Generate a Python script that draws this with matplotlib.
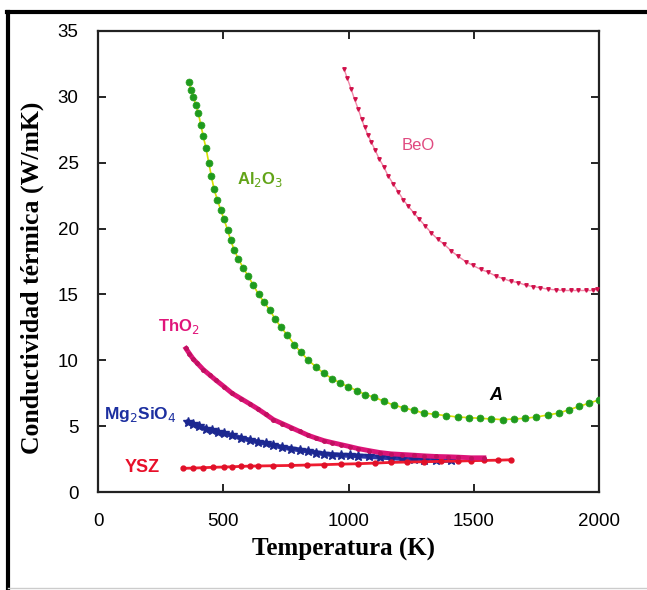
import matplotlib
matplotlib.use("Agg")
import matplotlib.pyplot as plt
from matplotlib.lines import Line2D

# datos (T en K, k en W/mK)
t_al2o3 = [363, 372, 381, 390, 400, 410, 420, 431, 442, 452, 463, 476, 490, 503, 517,
           530, 543, 560, 580, 599, 620, 641, 663, 686, 708, 731, 756, 783, 810, 840,
           870, 902, 935, 965, 998, 1033, 1067, 1102, 1140, 1180, 1220, 1260, 1300,
           1345, 1390, 1435, 1480, 1525, 1570, 1615, 1660, 1705, 1750, 1795, 1840,
           1880, 1920, 1960, 2000]
k_al2o3 = [31.1, 30.5, 30.0, 29.4, 28.8, 27.9, 27.0, 26.1, 25.0, 24.0, 23.0, 22.2, 21.4,
           20.7, 19.9, 19.1, 18.4, 17.7, 17.0, 16.4, 15.7, 15.0, 14.4, 13.8, 13.1, 12.5,
           11.9, 11.2, 10.6, 10.0, 9.5, 9.0, 8.6, 8.3, 8.0, 7.7, 7.4, 7.2, 6.9, 6.6, 6.4,
           6.2, 6.0, 5.9, 5.8, 5.7, 5.65, 5.6, 5.55, 5.5, 5.55, 5.6, 5.7, 5.85, 6.0,
           6.25, 6.5, 6.75, 7.0]

t_beo = [982, 995, 1010, 1024, 1038, 1052, 1064, 1077, 1090, 1105, 1122, 1140, 1158,
         1178, 1198, 1218, 1238, 1260, 1283, 1306, 1329, 1355, 1382, 1410, 1437, 1467,
         1497, 1527, 1557, 1587, 1617, 1647, 1677, 1707, 1737, 1766, 1796, 1826, 1856,
         1886, 1916, 1946, 1975, 1990]
k_beo = [32.1, 31.4, 30.6, 29.8, 29.1, 28.3, 27.7, 27.1, 26.6, 26.0, 25.3, 24.7, 24.0,
         23.4, 22.8, 22.2, 21.7, 21.2, 20.7, 20.2, 19.7, 19.2, 18.8, 18.3, 17.9, 17.5,
         17.2, 16.9, 16.7, 16.4, 16.2, 16.0, 15.9, 15.7, 15.6, 15.5, 15.4, 15.35, 15.3,
         15.3, 15.3, 15.3, 15.3, 15.4]

t_tho2 = [351, 365, 380, 395, 420, 445, 470, 503, 535, 570, 605, 639, 670, 700, 735,
          770, 805, 840, 870, 902, 935, 970, 1005, 1038, 1080, 1125, 1170, 1215, 1260,
          1301, 1350, 1395, 1437, 1490, 1540]
k_tho2 = [10.9, 10.5, 10.1, 9.8, 9.3, 8.9, 8.5, 8.0, 7.5, 7.1, 6.7, 6.3, 5.9, 5.5, 5.2,
          4.9, 4.6, 4.3, 4.1, 3.9, 3.75, 3.6, 3.45, 3.3, 3.15, 3.0, 2.9, 2.85, 2.8, 2.75,
          2.7, 2.68, 2.65, 2.6, 2.6]

t_mg2sio4 = [359, 380, 405, 430, 455, 480, 503, 535, 570, 605, 639, 670, 700, 735, 770,
             805, 840, 870, 902, 935, 970, 1005, 1038, 1080, 1125, 1170, 1215, 1260,
             1301, 1350, 1409]
k_mg2sio4 = [5.3, 5.15, 5.0, 4.8, 4.7, 4.55, 4.45, 4.3, 4.1, 3.95, 3.8, 3.7, 3.55, 3.4,
             3.3, 3.2, 3.1, 3.0, 2.9, 2.85, 2.8, 2.78, 2.75, 2.7, 2.65, 2.6, 2.55, 2.5,
             2.45, 2.42, 2.4]

t_ysz = [339, 380, 420, 460, 503, 535, 570, 605, 639, 700, 770, 835, 902, 970, 1038,
         1105, 1170, 1235, 1301, 1370, 1437, 1490, 1540, 1595, 1650]
k_ysz = [1.8, 1.82, 1.85, 1.88, 1.9, 1.92, 1.95, 1.97, 1.98, 2.0, 2.02, 2.05, 2.08, 2.12,
         2.15, 2.2, 2.25, 2.28, 2.3, 2.33, 2.35, 2.38, 2.4, 2.42, 2.45]

fig = plt.figure(figsize=(6.47, 5.90), dpi=100)
ax = fig.add_axes([0.1515, 0.166, 0.7745, 0.7815])

ax.plot(t_al2o3, k_al2o3, color='#d8e000', lw=1.2, marker='o', ms=5,
        mfc='#1e9a1e', mec='#2aa020', mew=0.5, zorder=3)
ax.plot(t_beo, k_beo, color='#f088a8', lw=1.0, marker='v', ms=2.5,
        mfc='#d0104a', mec='#d0104a', zorder=3)
ax.plot(t_tho2, k_tho2, color='#dc1478', lw=3.5, marker='o', ms=2.5,
        mfc='#c01060', mec='#c01060', zorder=3)
ax.plot(t_mg2sio4, k_mg2sio4, color='#2a36a8', lw=3.5, marker='*', ms=7,
        mfc='#1c2890', mec='#1c2890', zorder=2)
ax.plot(t_ysz, k_ysz, color='#ee1c30', lw=2, marker='o', ms=3.5,
        mfc='#e01028', mec='#e01028', zorder=2)

ax.text(555, 23.7, 'Al$_2$O$_3$', color='#62a418', fontsize=12, fontweight='bold',
        family='Liberation Sans', va='center')
ax.text(1280, 26.3, 'BeO', color='#e04a80', fontsize=12, family='Liberation Sans',
        ha='center', va='center')
ax.text(240, 12.6, 'ThO$_2$', color='#e0157a', fontsize=12, fontweight='bold',
        family='Liberation Sans', va='center')
ax.text(22, 5.9, 'Mg$_2$SiO$_4$', color='#1c2fa0', fontsize=12.5, fontweight='bold',
        family='Liberation Sans', va='center')
ax.text(108, 1.85, 'YSZ', color='#e8102a', fontsize=13, fontweight='bold',
        family='Liberation Sans', va='center')
ax.text(1560, 7.3, 'A', color='black', fontsize=13, fontweight='bold', style='italic',
        family='Liberation Sans', va='center')

ax.set_xlim(0, 2000)
ax.set_ylim(0, 35)
ax.set_xticks([0, 500, 1000, 1500, 2000])
ax.set_yticks([0, 5, 10, 15, 20, 25, 30, 35])
ax.tick_params(direction='in', top=True, right=True, length=6, width=1.2,
               labelsize=13.5)
ax.tick_params(axis='x', pad=15)
ax.tick_params(axis='y', pad=14)
for lab in ax.get_xticklabels() + ax.get_yticklabels():
    lab.set_family('Liberation Sans')
for s in ax.spines.values():
    s.set_linewidth(1.6)
    s.set_color('#222222')

ax.set_xlabel('Temperatura (K)', family='Liberation Serif', fontsize=18,
              fontweight='bold', va='center')
ax.set_ylabel('Conductividad térmica (W/mK)', family='Liberation Serif', fontsize=18.5,
              fontweight='bold', va='center')
ax.xaxis.set_label_coords(0.49, -0.124)
ax.yaxis.set_label_coords(-0.132, 0.465)

# marco negro de la imagen
fig.add_artist(Line2D([0.011, 1.0], [0.980, 0.980], color='black', lw=3))
fig.add_artist(Line2D([0.013, 0.013], [0.0, 0.980], color='black', lw=3))
fig.add_artist(Line2D([0.013, 1.0], [0.004, 0.004], color='#cccccc', lw=1))

fig.savefig('out.png', dpi=100)
